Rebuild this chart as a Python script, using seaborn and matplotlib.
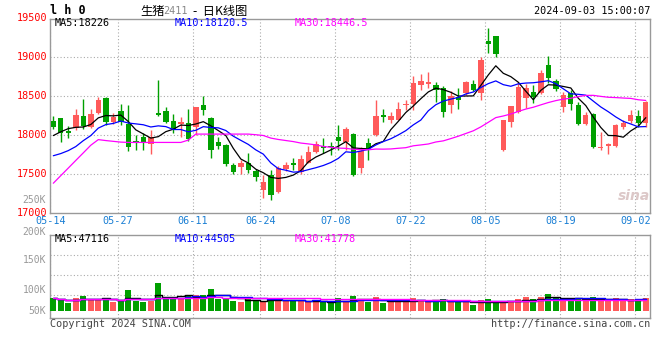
import pandas as pd
import matplotlib
matplotlib.use("Agg")
import matplotlib.pyplot as plt
import matplotlib.transforms as mtrans
import seaborn as sns

# trading days on the chart (2024-06-10 was a holiday)
days = pd.bdate_range("2024-05-14", "2024-09-03")
days = days[days != pd.Timestamp("2024-06-10")]

opens = [18180, 18214, 18055, 18094, 18244, 18106, 18286, 18478, 18163, 18307,
         18141, 17930, 17978, 17885, 18280, 18310, 18180, 18141, 18150, 18106,
         18385, 18214, 17906, 17872, 17615, 17585, 17637, 17540, 17295, 17487,
         17273, 17560, 17637, 17530, 17647, 17786, 17860, 17860, 17970, 17915,
         18013, 17573, 17902, 18000, 18256, 18200, 18200, 18385, 18394, 18637,
         18654, 18637, 18600, 18385, 18490, 18535, 18654, 18543, 19209, 19273,
         17808, 18170, 18300, 18480, 18555, 18543, 18897, 18690, 18363, 18535,
         18385, 18137, 18270, 17830, 17860, 17860, 18107, 18183, 18243, 18150]
highs = [18250, 18220, 18115, 18333, 18470, 18330, 18483, 18490, 18278, 18397,
         18385, 18000, 18025, 18064, 18705, 18355, 18270, 18235, 18330, 18363,
         18500, 18235, 17970, 17880, 17640, 17680, 17765, 17560, 17487, 17550,
         17600, 17658, 17700, 17740, 17860, 17920, 17966, 17915, 18128, 18100,
         18030, 17850, 17957, 18450, 18330, 18300, 18419, 18457, 18760, 18782,
         18812, 18680, 18628, 18560, 18600, 18700, 18705, 19000, 19376, 19273,
         18200, 18380, 18683, 18650, 18640, 18830, 19013, 18720, 18555, 18577,
         18427, 18300, 18290, 18043, 17900, 18140, 18200, 18320, 18320, 18440]
lows = [18080, 17915, 17960, 18064, 18073, 18086, 18270, 18128, 18137, 18130,
        17800, 17810, 17808, 17756, 18240, 18150, 18030, 17980, 17930, 18000,
        18256, 17705, 17820, 17600, 17500, 17500, 17510, 17410, 17190, 17165,
        17260, 17540, 17550, 17500, 17640, 17770, 17765, 17745, 17808, 17810,
        17480, 17510, 17680, 17990, 18170, 18150, 18190, 18320, 18320, 18577,
        18600, 18430, 18227, 18290, 18330, 18520, 18560, 18450, 19055, 19000,
        17790, 18110, 18280, 18350, 18410, 18530, 18663, 18560, 18300, 18320,
        18128, 18128, 17840, 17810, 17760, 17850, 18080, 18150, 18100, 18100]
closes = [18106, 18022, 18022, 18256, 18115, 18265, 18449, 18171, 18235, 18167,
          17850, 17915, 17906, 17970, 18260, 18170, 18073, 18170, 17945, 18355,
          18320, 17808, 17863, 17628, 17530, 17637, 17551, 17466, 17400, 17230,
          17573, 17615, 17615, 17688, 17787, 17885, 17838, 17850, 17927, 18077,
          17487, 17800, 17830, 18250, 18227, 18243, 18333, 18397, 18670, 18692,
          18680, 18577, 18300, 18500, 18450, 18683, 18585, 18970, 19175, 19038,
          18200, 18370, 18612, 18600, 18490, 18800, 18730, 18590, 18513, 18394,
          18141, 18256, 17850, 17850, 17880, 18128, 18158, 18256, 18150, 18427]
volumes = [49900, 47200, 32600, 49900, 59000, 43200, 43200, 51100, 35400, 39300,
           82500, 40500, 35400, 40500, 110000, 47200, 47200, 47200, 62900, 62900,
           62900, 86500, 47200, 47200, 39300, 34200, 47200, 39300, 39300, 47200,
           51100, 39300, 39300, 39300, 35400, 35400, 39300, 36500, 49900, 39300,
           59000, 43200, 36500, 55000, 31400, 39300, 39300, 39300, 51100, 39300,
           35400, 43200, 47200, 35400, 35400, 35400, 23600, 43200, 47200, 35400,
           31400, 39300, 47200, 55000, 47200, 55000, 66800, 51100, 43200, 43200,
           47200, 43200, 55000, 43200, 39300, 51100, 39300, 47200, 47200, 51100]

# moving-average values before a full window exists
ma5_head = [17994, 18043, 18083, 18100]
ma10_head = [17735, 17763, 17801, 17853, 17929, 17994, 18090, 18135, 18150]
ma30_head = [17382, 17480, 17577, 17675, 17772, 17870, 17942, 17930, 17920, 17910,
             17906, 17906, 17906, 17906, 17906, 17906, 17906, 17906, 17936, 18013,
             18013, 18013, 18013, 18013, 18013, 18013, 18013, 18005, 17995]

tick_dates = ["05-14", "05-27", "06-11", "06-24", "07-08", "07-22", "08-05", "08-19", "09-02"]
price_labels = [17000, 17500, 18000, 18500, 19000, 19500]
vol_labels = ["250K", "200K", "150K", "100K", "50K"]

ma_price = ["MA5:18226", "MA10:18120.5", "MA30:18446.5"]
ma_vol = ["MA5:47116", "MA10:44505", "MA30:41778"]

RED = "#ff5a5a"
GREEN = "#00a000"
GRID = "#aaaaaa"
MA_COLORS = ["black", "#0000ff", "#ff00ff"]

df = pd.DataFrame({"open": opens, "high": highs, "low": lows, "close": closes,
                   "vol": volumes}, index=days)
df["i"] = range(len(df))
df["up"] = df["close"] >= df["open"]
df["color"] = df["up"].map({True: RED, False: GREEN})


def with_head(series, n, head):
    m = series.rolling(n).mean()
    m.iloc[:len(head)] = head
    return m


df["ma5"] = with_head(df["close"], 5, ma5_head)
df["ma10"] = with_head(df["close"], 10, ma10_head)
df["ma30"] = with_head(df["close"], 30, ma30_head)
df["vma5"] = df["vol"].rolling(5, min_periods=1).mean()
df["vma10"] = df["vol"].rolling(10, min_periods=1).mean()
df["vma30"] = df["vol"].rolling(30, min_periods=1).mean()

sns.set_style("white")
plt.rcParams["font.family"] = ["DejaVu Sans Mono", "Noto Sans CJK SC"]

W, H = 660, 360
fig = plt.figure(figsize=(6.6, 3.6), dpi=100)


def fx(px):
    return px / W


def fy(py):
    return 1 - py / H


ax = fig.add_axes([fx(50), fy(213.3), fx(600), (213.3 - 19.3) / H])
axv = fig.add_axes([fx(50), fy(318), fx(600), 83 / H])

# candles
ax.vlines(df["i"], df["low"], df["high"], colors=df["color"], lw=1, zorder=3)
body = (df["close"] - df["open"]).abs().clip(lower=8)
ax.bar(df["i"], body, bottom=df[["open", "close"]].min(axis=1), width=0.72,
       color=df["color"], linewidth=0, zorder=3)
for col, c in zip(["ma5", "ma10", "ma30"], MA_COLORS):
    sns.lineplot(x=df["i"], y=df[col], color=c, lw=0.9, ax=ax, zorder=4)

# volume
axv.bar(df["i"], df["vol"], width=0.78, color=df["color"], linewidth=0, zorder=3)
for col, c in zip(["vma5", "vma10", "vma30"], MA_COLORS):
    sns.lineplot(x=df["i"], y=df[col], color=c, lw=1, ax=axv, zorder=4,
                 drawstyle="steps-mid")

xlim = (-0.44, len(df) - 0.44)
tick_pos = [df.loc[pd.Timestamp("2024-" + d), "i"] - 0.4 for d in tick_dates]
for a in (ax, axv):
    a.set_xlim(*xlim)
    a.set_xlabel("")
    a.set_ylabel("")
    a.set_xticks(tick_pos)
    a.grid(axis="x", color=GRID, ls=(0, (1, 2)), lw=0.8)
    a.tick_params(length=0)
    for s in a.spines.values():
        s.set_color("#999999")
        s.set_linewidth(1)

ax.set_ylim(16996, 19487)
ax.set_yticks([17500, 18000, 18500, 19000])
ax.grid(axis="y", color=GRID, ls=(0, (1, 2)), lw=0.8)
ax.set_yticklabels([])
ax.set_xticklabels(tick_dates, color="#1a7fd4", fontsize=7.3)
ax.tick_params(axis="x", pad=2)

axv.set_ylim(-27500, 298700)
axv.set_yticks([])
axv.set_xticklabels([])
for frac in (0.277, 0.518, 0.759):
    axv.axhline(-27500 + frac * 326200, color=GRID, ls=(0, (1, 2)), lw=0.8)

# price labels
tr = mtrans.blended_transform_factory(fig.transFigure, ax.transData)
for p in price_labels:
    fig.text(fx(47), p, str(p), transform=tr, ha="right", va="center",
             color="red", fontsize=7.3)

for lab, py in zip(vol_labels, [200, 231.5, 260, 290, 311]):
    fig.text(fx(46), fy(py), lab, ha="right", va="center", color="#999999",
             fontsize=7)

# header
fig.text(fx(50), fy(11), "l h 0", ha="left", va="center", fontsize=8.5,
         fontweight="bold", color="black")
fig.text(fx(140), fy(11), "生猪", ha="left", va="center", fontsize=8.8,
         family=["Noto Sans CJK SC"], color="black")
fig.text(fx(163), fy(11), "2411", ha="left", va="center", fontsize=7.3,
         color="#888888")
fig.text(fx(193), fy(11), "-  日K线图", ha="left", va="center", fontsize=8.8,
         family=["Noto Sans CJK SC", "DejaVu Sans"], color="black")
fig.text(fx(650), fy(11), "2024-09-03 15:00:07", ha="right", va="center",
         fontsize=7.3, color="black")

for txt, px, c in zip(ma_price, [55, 175, 295], MA_COLORS):
    fig.text(fx(px), fy(23.5), txt, ha="left", va="center", fontsize=7.3, color=c)
for txt, px, c in zip(ma_vol, [55, 175, 295], MA_COLORS):
    fig.text(fx(px), fy(239), txt, ha="left", va="center", fontsize=7.3, color=c)

fig.text(fx(634), fy(196), "sina", ha="center", va="center", fontsize=10,
         style="italic", fontweight="bold", color="#dcc8c8",
         family=["DejaVu Sans"])

fig.text(fx(50), fy(324), "Copyright 2024 SINA.COM", ha="left", va="center",
         fontsize=7.3, color="#444444")
fig.text(fx(650), fy(324), "http://finance.sina.com.cn", ha="right",
         va="center", fontsize=7.3, color="#444444")

fig.savefig("out.png", dpi=100, facecolor="white")
